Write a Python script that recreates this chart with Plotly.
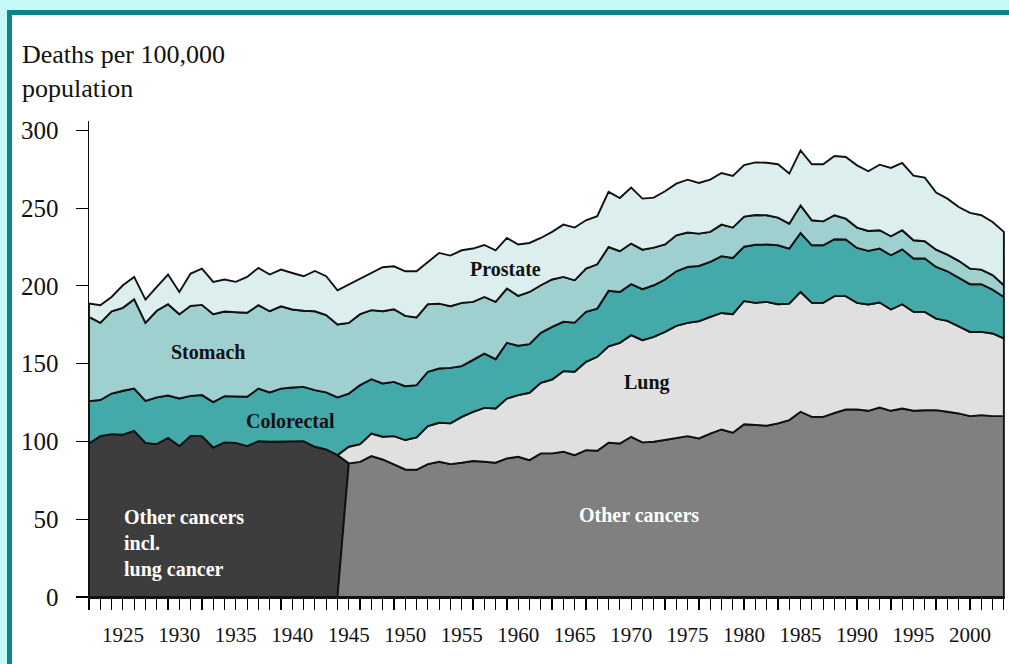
import numpy as np
import plotly.graph_objects as go

# ---------------- data (deaths per 100,000 population) ----------------
years_early = list(range(1922, 1945))   # "Other cancers incl. lung cancer" period
years_late = list(range(1945, 2004))    # lung cancer shown separately
years_all = list(range(1922, 2004))

other_incl_lung = [98.7, 103.4, 104.7, 104.3, 106.8, 99.1, 98.3, 102.3, 97.0, 103.6,
                   103.4, 96.1, 99.4, 99.1, 97.0, 100.2, 99.8, 99.8, 100.0, 100.2,
                   96.6, 94.9, 91.2]

other_cancers = [85.9, 86.9, 90.6, 88.4, 85.2, 82.0, 81.8, 85.4, 86.9, 85.4,
                 86.3, 87.4, 86.9, 86.3, 89.1, 90.1, 88.0, 92.3, 92.3, 93.4,
                 91.2, 94.4, 94.0, 99.1, 98.7, 103.0, 99.4, 99.8, 100.9, 102.3,
                 103.4, 101.9, 105.1, 107.7, 105.6, 111.1, 110.5, 110.1, 111.6, 113.7,
                 119.1, 115.8, 115.8, 118.4, 120.5, 120.5, 119.7, 121.8, 119.7, 121.2,
                 119.7, 120.1, 120.1, 119.1, 118.0, 116.3, 116.9, 116.3, 116.3]

lung = [10.7, 11.4, 14.5, 14.6, 18.2, 18.9, 20.8, 24.4, 25.1, 26.2,
        29.5, 31.6, 34.7, 34.9, 38.5, 39.7, 43.3, 45.4, 47.5, 51.8,
        53.6, 56.8, 60.4, 62.1, 64.7, 65.3, 65.7, 67.4, 69.5, 72.0,
        72.8, 75.4, 75.0, 74.9, 76.2, 79.2, 78.6, 79.6, 76.6, 74.9,
        77.0, 73.3, 73.3, 75.0, 72.9, 68.6, 68.3, 67.5, 65.1, 67.0,
        63.6, 63.2, 58.9, 58.4, 56.1, 54.1, 53.5, 53.1, 49.9]

colorectal = [27.2, 23.2, 26.1, 28.3, 27.2, 27.0, 30.0, 27.2, 30.6, 25.7,
              26.4, 29.2, 29.7, 30.0, 31.7, 33.8, 31.7, 34.2, 34.7, 34.9,
              36.4, 36.6, 37.1,
              34.2, 37.9, 34.9, 34.3, 34.9, 34.6, 33.6, 35.0, 34.9, 35.7,
              32.6, 33.2, 34.9, 31.7, 35.8, 31.7, 31.2, 32.1, 33.9, 31.7,
              31.6, 32.1, 31.0, 35.6, 32.7, 32.8, 32.8, 33.2, 33.7, 35.1,
              36.0, 35.5, 35.3, 36.5, 36.2, 34.9, 37.3, 36.9, 37.9, 35.4,
              37.9, 37.0, 37.0, 36.6, 36.4, 35.3, 34.5, 34.7, 34.9, 35.3,
              34.3, 34.3, 33.2, 31.9, 31.3, 30.7, 30.7, 28.2, 26.7]

stomach = [54.2, 49.6, 52.9, 53.3, 57.4, 50.1, 55.7, 58.7, 54.2, 57.9,
           58.0, 56.5, 54.4, 54.0, 54.0, 53.6, 52.2, 52.9, 50.1, 48.9,
           50.7, 49.7, 46.9,
           45.4, 45.6, 44.4, 46.4, 46.7, 45.2, 43.5, 43.4, 41.7, 39.6,
           40.7, 37.5, 36.4, 36.8, 34.9, 32.1, 33.6, 30.6, 30.4, 28.9,
           27.2, 27.8, 28.5, 28.2, 26.2, 26.1, 25.4, 24.2, 22.5, 23.1,
           22.1, 20.8, 19.3, 20.3, 19.5, 19.3, 19.2, 18.8, 17.8, 16.0,
           17.8, 16.1, 15.4, 15.4, 13.4, 13.1, 12.8, 11.8, 12.2, 12.3,
           11.7, 11.1, 11.1, 10.7, 10.7, 10.0, 9.4, 9.3, 7.5]

prostate = [8.6, 11.4, 9.2, 14.5, 14.4, 15.0, 15.4, 19.1, 14.3, 20.7,
            23.3, 20.8, 20.6, 19.5, 23.1, 24.0, 23.6, 23.6, 23.5, 22.2,
            25.9, 25.0, 22.0,
            24.6, 22.7, 23.9, 28.3, 27.6, 28.7, 29.7, 27.2, 32.6, 32.6,
            33.8, 34.3, 33.4, 33.2, 32.5, 33.0, 31.5, 30.4, 30.6, 33.6,
            33.9, 31.1, 30.9, 35.4, 34.2, 36.0, 32.8, 32.1, 34.2, 33.2,
            34.0, 32.6, 33.6, 33.2, 33.2, 33.2, 33.8, 33.8, 34.3, 32.2,
            35.3, 36.0, 36.7, 38.1, 39.7, 40.0, 38.4, 42.1, 43.9, 43.2,
            41.6, 40.9, 36.7, 36.0, 34.6, 35.8, 34.9, 34.2, 34.3]

x_tick_labels = {y: str(y) for y in range(1925, 2001, 5)}
y_ticks = [0, 50, 100, 150, 200, 250, 300]

assert len(other_incl_lung) == len(years_early)
assert len(other_cancers) == len(lung) == len(years_late)
assert len(colorectal) == len(stomach) == len(prostate) == len(years_all)

# ---------------- stacking ----------------
base_early = np.array(other_incl_lung)
oth = np.array(other_cancers)
lung_top = oth + np.array(lung)
base = np.concatenate([base_early, lung_top])
colo_top = base + np.array(colorectal)
stom_top = colo_top + np.array(stomach)
pros_top = stom_top + np.array(prostate)

split = years_early[-1]
first_late = years_late[0]
last = years_all[-1]

C_DARK = "#3d3d3d"
C_OTHER = "#808080"
C_LUNG = "#e0e0e0"
C_COLO = "#43a9a9"
C_STOM = "#9ed0d0"
C_PROS = "#dcefee"
LINE = dict(color="#111111", width=1.9)

fig = go.Figure()


def add_poly(xt, yt, xb, yb, color, name):
    xs = list(xt) + list(xb)[::-1]
    ys = list(yt) + list(yb)[::-1]
    xs.append(xs[0])
    ys.append(ys[0])
    fig.add_trace(go.Scatter(x=xs, y=ys, mode="lines", fill="toself",
                             fillcolor=color, line=LINE, name=name,
                             hoverinfo="skip"))


# Other cancers incl. lung cancer (1922-1944)
add_poly(years_early + [first_late], list(base_early) + [oth[0]],
         [years_early[0], split], [0, 0], C_DARK, "Other cancers incl. lung cancer")
# Other cancers (1945-)
add_poly([split] + years_late, [0] + list(oth),
         [split, last], [0, 0], C_OTHER, "Other cancers")
# Lung
add_poly([split] + years_late, [base_early[-1]] + list(lung_top),
         [split] + years_late, [base_early[-1]] + list(oth), C_LUNG, "Lung")
# Colorectal
add_poly(years_all, colo_top, years_all, base, C_COLO, "Colorectal")
# Stomach
add_poly(years_all, stom_top, years_all, colo_top, C_STOM, "Stomach")
# Prostate
add_poly(years_all, pros_top, years_all, stom_top, C_PROS, "Prostate")

SERIF = "Liberation Serif"
lab = dict(family=SERIF, size=20, color="#111111")
wlab = dict(family=SERIF, size=20, color="white")


def ann(x, y, text, font, **kw):
    fig.add_annotation(x=x, y=y, xref="x", yref="y", text=text, showarrow=False,
                       font=font, **kw)


ann(1958.9, 210.8, "<b>Prostate</b>", lab)
ann(1932.5, 157.5, "<b>Stomach</b>", lab)
ann(1939.8, 113.0, "<b>Colorectal</b>", lab)
ann(1971.4, 138.2, "<b>Lung</b>", lab)
ann(1970.7, 52.7, "<b>Other cancers</b>", wlab)
ann(1924.9, 34.7, "<b>Other cancers<br>incl.<br>lung cancer</b>", wlab,
    xanchor="left", align="left")

# ---------------- layout ----------------
L, R, T, B = 89, 4, 121, 67
W, H = 1009, 664
PW, PH = W - L - R, H - T - B


def px_x(px):
    return (px - L) / PW


def px_y(py):
    return (H - B - py) / PH


fig.add_annotation(x=px_x(20), y=px_y(38), xref="paper", yref="paper",
                   xanchor="left", yanchor="top", align="left", showarrow=False,
                   text="Deaths per 100,000<br>population",
                   font=dict(family=SERIF, size=26, color="#111111"))

# frame
fig.add_shape(type="rect", xref="paper", yref="paper",
              x0=px_x(9.5), x1=px_x(1016), y0=px_y(720), y1=px_y(12.5),
              line=dict(color="#0b8585", width=5), fillcolor="white", layer="below")

fig.update_layout(
    width=W, height=H,
    margin=dict(l=L, r=R, t=T, b=B, autoexpand=False),
    paper_bgcolor="#c6f8f8",
    plot_bgcolor="rgba(0,0,0,0)",
    showlegend=False,
    font=dict(family=SERIF, color="#111111"),
    xaxis=dict(range=[years_all[0], last + 0.1], tickmode="array",
               tickvals=years_all,
               ticktext=[x_tick_labels.get(y, "") for y in years_all],
               ticks="outside", ticklen=11, tickwidth=1.2, tickcolor="#000000",
               showline=True, linecolor="#111111", linewidth=1.5,
               showgrid=False, zeroline=False, ticklabelstandoff=7,
               automargin=False, layer="above traces",
               tickfont=dict(family=SERIF, size=21, color="#111111")),
    yaxis=dict(range=[0, 306], tickmode="array", tickvals=y_ticks,
               ticks="outside", ticklen=12, tickwidth=1.2, tickcolor="#000000",
               showline=True, linecolor="#111111", linewidth=1.5,
               showgrid=False, zeroline=False, ticklabelstandoff=12,
               automargin=False, layer="above traces",
               tickfont=dict(family=SERIF, size=25, color="#111111")),
)

fig.write_html(
    "out.html",
    config={"displayModeBar": False, "staticPlot": True},
    post_script="document.body.style.margin='0';document.body.style.padding='0';"
                "document.documentElement.style.overflow='hidden';"
                "document.body.style.overflow='hidden';",
)
